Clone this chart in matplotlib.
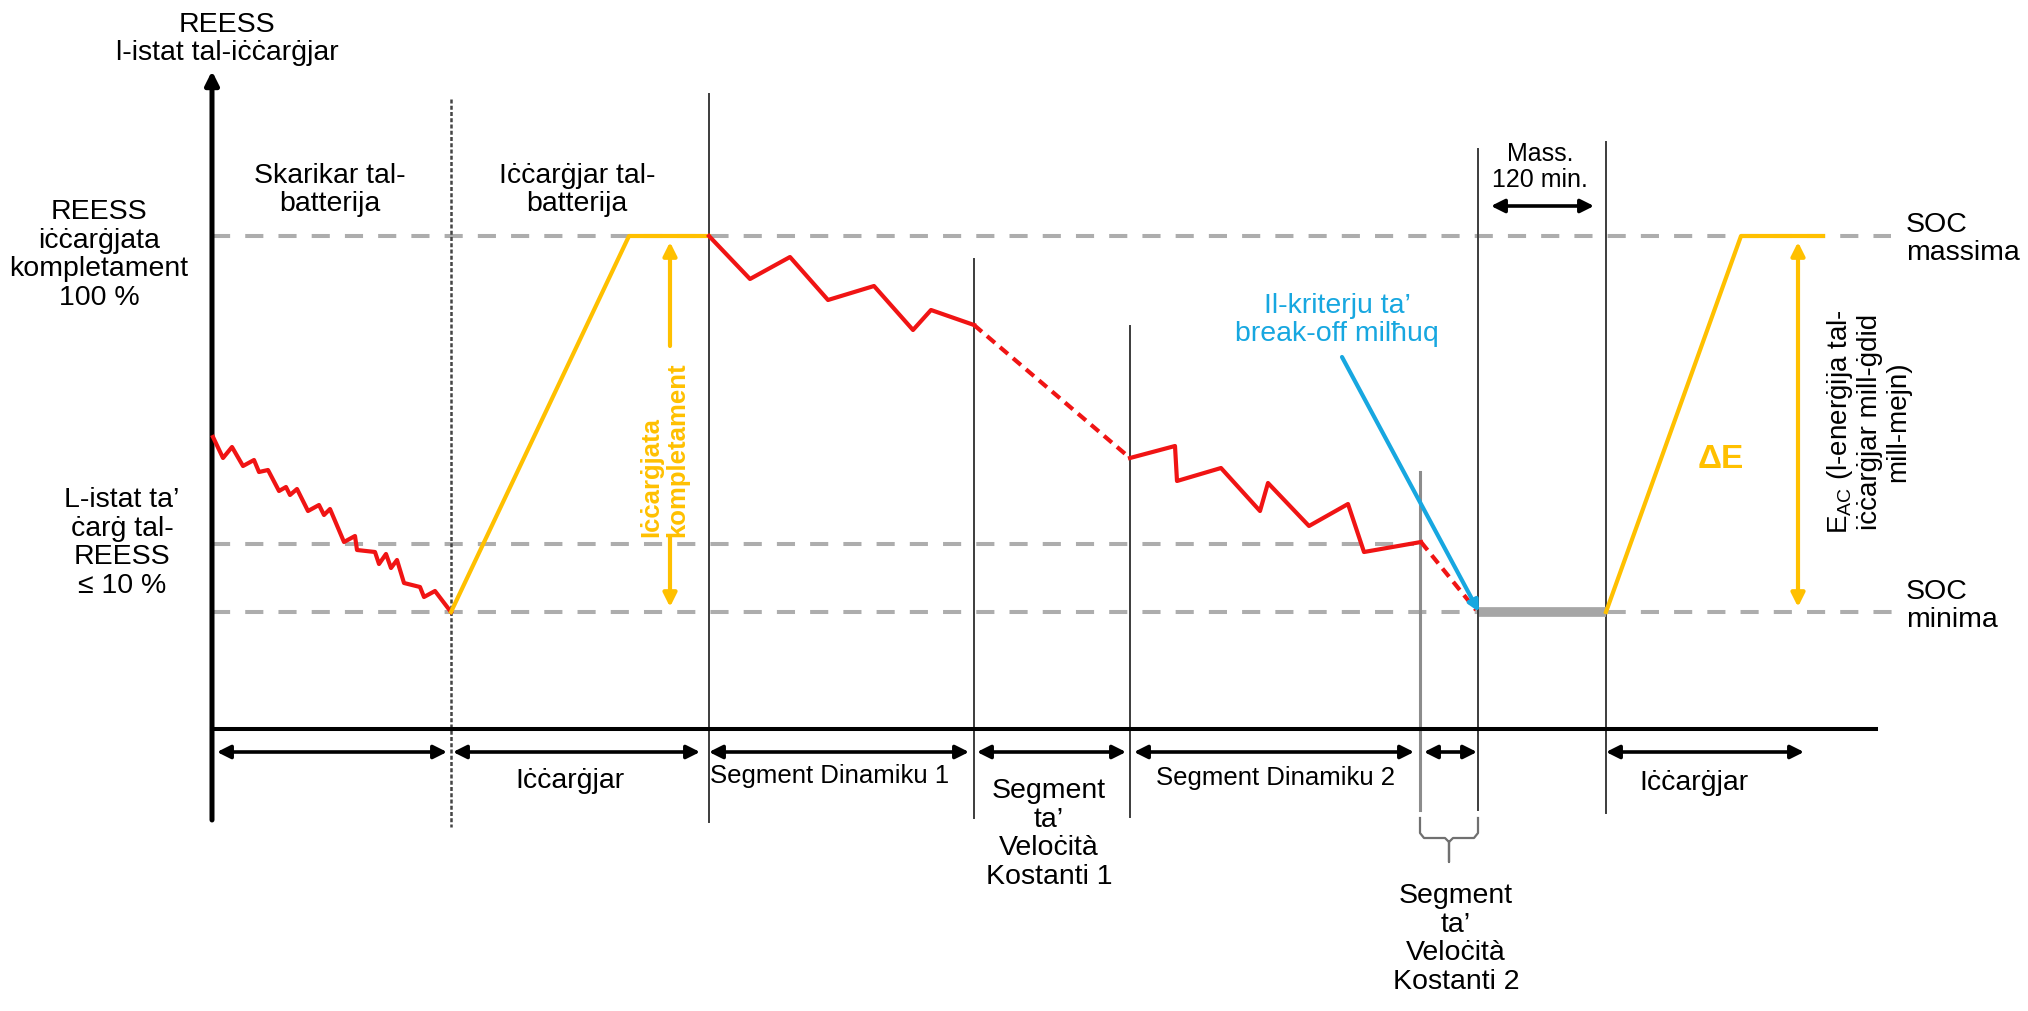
import matplotlib
matplotlib.use("Agg")
import matplotlib.pyplot as plt

plt.rcParams['font.family'] = ['Liberation Sans', 'DejaVu Sans']

# ---- data (schematic units: x = time from the origin, y = SOC height above the time axis) ----
SOC_FULL = 493
SOC_10 = 185
SOC_MIN = 117

# discharge of the battery (red, jagged)
dis_t = [1, 11, 20, 31, 42, 47, 56, 67, 74, 78, 85, 96, 107, 112, 118, 132, 143, 145,
         163, 167, 174, 179, 185, 192, 208, 212, 223, 239]
dis_soc = [292, 271, 282, 263, 269, 257, 259, 238, 242, 234, 240, 218, 224, 214, 220, 187, 193, 179,
           177, 165, 175, 161, 169, 146, 142, 132, 138, 117]

# first charge (orange)
chg1_t = [239, 417, 497]
chg1_soc = [117, 493, 493]

# dynamic segment 1
dyn1_t = [497, 538, 578, 616, 662, 701, 719, 762]
dyn1_soc = [493, 450, 472, 429, 443, 399, 419, 404]

# constant speed segment 1 (dashed)
cs1_t = [762, 918]
cs1_soc = [404, 271]

# dynamic segment 2
dyn2_t = [918, 963, 965, 1009, 1048, 1056, 1097, 1136, 1152, 1209]
dyn2_soc = [271, 283, 248, 261, 218, 246, 203, 225, 177, 187]

# constant speed segment 2 (dashed)
cs2_t = [1209, 1264]
cs2_soc = [187, 119]

# break-off criterion line (blue)
brk_t = [1130, 1267]
brk_soc = [372, 117]

# soak period (grey bar)
soak_t = [1267, 1394]

# recharge (orange)
chg2_t = [1394, 1529, 1611]
chg2_soc = [117, 493, 493]

# phase boundaries: (t, top, bottom)
bound_t = [497, 762, 918, 1266, 1394]
bound_top = [635, 470, 403, 580, 587]
bound_bot = [-93, -89, -88, -81, -84]

# segment arrows under the time axis
seg_start = [5, 241, 497, 765, 922, 1212, 1394]
seg_end = [235, 488, 757, 914, 1202, 1265, 1592]

# labels under the time axis
seg_labels = ["Iċċarġjar", "Segment Dinamiku 1", "Segment\nta’\nVeloċità\nKostanti 1",
              "Segment Dinamiku 2", "Segment\nta’\nVeloċità\nKostanti 2", "Iċċarġjar"]
seg_label_t = [358, 618, 837, 1064, 1244, 1482]
seg_label_y = [-51, -46, -104, -48, -209, -53]
seg_label_fs = [20.5, 18.5, 20.5, 18.5, 20.5, 20.5]

RED = "#F01414"
ORANGE = "#FFC000"
BLUE = "#17A7E0"
GREY = "#ADADAD"
LINE = "#3C3C3C"

fig = plt.figure(figsize=(20.28, 10.12), dpi=100)
ax = fig.add_axes([0, 0, 1, 1])
ax.set_xlim(-212, 1816)
ax.set_ylim(-282, 730)
ax.axis("off")

# horizontal reference levels
dash = dict(color=GREY, lw=2.9, dashes=(4.5, 3.75), zorder=1)
ax.plot([0, 1679], [SOC_FULL, SOC_FULL], **dash)
ax.plot([0, 1202], [SOC_10, SOC_10], **dash)
ax.plot([0, 1689], [SOC_MIN, SOC_MIN], **dash)

# phase boundaries
ax.plot([239, 239], [630, -98], color="#444444", lw=1.8, dashes=(1.6, 0.9), zorder=2)
for t, top, bot in zip(bound_t, bound_top, bound_bot):
    ax.plot([t, t], [top, bot], color=LINE, lw=1.4, zorder=2)
ax.plot([1208, 1208], [257, -81], color="#8C8C8C", lw=2.2, zorder=2)

# brace under constant speed segment 2
brace_t = [1208, 1208, 1212, 1233, 1237, 1237, 1237, 1241, 1262, 1266, 1266]
brace_y = [-89, -104, -109, -109, -113, -133, -113, -109, -109, -104, -89]
ax.plot(brace_t, brace_y, color="#707070", lw=1.6, zorder=2)

# axes of the diagram
ax.plot([0, 1664], [0, 0], color="black", lw=2.9, zorder=3)
ax.annotate("", xy=(0, 658), xytext=(0, -91),
            arrowprops=dict(arrowstyle="-|>", mutation_scale=20, lw=3.6, color="black",
                            shrinkA=0, shrinkB=0), zorder=3)

# segment arrows
for a, b in zip(seg_start, seg_end):
    ax.annotate("", xy=(b, -23), xytext=(a, -23),
                arrowprops=dict(arrowstyle="<|-|>", mutation_scale=20, lw=2.6, color="black",
                                shrinkA=0, shrinkB=0))
ax.annotate("", xy=(1382, 523), xytext=(1279, 523),
            arrowprops=dict(arrowstyle="<|-|>", mutation_scale=20, lw=2.6, color="black",
                            shrinkA=0, shrinkB=0))

# SOC curves
ax.plot(dis_t, dis_soc, color=RED, lw=3, zorder=5)
ax.plot(chg1_t, chg1_soc, color=ORANGE, lw=3, zorder=5)
ax.plot(dyn1_t, dyn1_soc, color=RED, lw=3, zorder=5)
ax.plot(cs1_t, cs1_soc, color=RED, lw=3, dashes=(2.5, 1.6), zorder=5)
ax.plot(dyn2_t, dyn2_soc, color=RED, lw=3, zorder=5)
ax.plot(cs2_t, cs2_soc, color=RED, lw=3, dashes=(2.5, 1.6), zorder=5)
ax.plot(soak_t, [SOC_MIN, SOC_MIN], color="#A6A6A6", lw=7, solid_capstyle="butt", zorder=4)
ax.plot(chg2_t, chg2_soc, color=ORANGE, lw=3, zorder=5)
ax.annotate("", xy=(brk_t[1], brk_soc[1]), xytext=(brk_t[0], brk_soc[0]),
            arrowprops=dict(arrowstyle="-|>", mutation_scale=16, lw=3, color=BLUE,
                            shrinkA=0, shrinkB=0), zorder=6)

# energy arrows (orange)
oarr = dict(arrowstyle="-|>", mutation_scale=20, lw=3, color=ORANGE, shrinkA=0, shrinkB=0)
ax.annotate("", xy=(458, 487), xytext=(458, 383), arrowprops=oarr)
ax.annotate("", xy=(458, 122), xytext=(458, 192), arrowprops=oarr)
ax.annotate("", xy=(1586, 122), xytext=(1586, 487),
            arrowprops=dict(oarr, arrowstyle="<|-|>"))

# texts
fs = 20.5
ls = 1.12
ax.text(15, 691, "REESS\nl-istat tal-iċċarġjar", ha="center", va="center", fontsize=fs, linespacing=ls)
ax.text(118, 540, "Skarikar tal-\nbatterija", ha="center", va="center", fontsize=fs, linespacing=ls)
ax.text(365, 540, "Iċċarġjar tal-\nbatterija", ha="center", va="center", fontsize=fs, linespacing=ls)
ax.text(-113, 475, "REESS\niċċarġjata\nkompletament\n100 %", ha="center", va="center",
        fontsize=fs, linespacing=ls)
ax.text(-90, 187, "L-istat ta’\nċarġ tal-\nREESS\n≤ 10 %", ha="center", va="center",
        fontsize=fs, linespacing=ls)
ax.text(452, 193, "Iċċarġjata\nkompletament", rotation=90, ha="center", va="bottom",
        multialignment="left", fontsize=18.5, fontweight="bold", color=ORANGE, linespacing=1.1)
ax.text(1509, 270, "ΔE", ha="center", va="center", fontsize=24, fontweight="bold", color=ORANGE)
ax.text(1656, 308, "E$_\\mathregular{AC}$ (l-enerġija tal-\niċċarġjar mill-ġdid\nmill-mejn)",
        rotation=90, ha="center", va="center", multialignment="center", fontsize=20, linespacing=1.12)
ax.text(1328, 563, "Mass.\n120 min.", ha="center", va="center", fontsize=18, linespacing=1.12)
ax.text(1125, 410, "Il-kriterju ta’\nbreak-off milħuq", ha="center", va="center", fontsize=fs,
        color=BLUE, linespacing=ls)
ax.text(1694, 491, "SOC\nmassima", ha="left", va="center", fontsize=fs, linespacing=ls)
ax.text(1694, 124, "SOC\nminima", ha="left", va="center", fontsize=fs, linespacing=ls)

for lab, t, y, f in zip(seg_labels, seg_label_t, seg_label_y, seg_label_fs):
    ax.text(t, y, lab, ha="center", va="center", fontsize=f, linespacing=ls)

fig.savefig("out.png", dpi=100)
